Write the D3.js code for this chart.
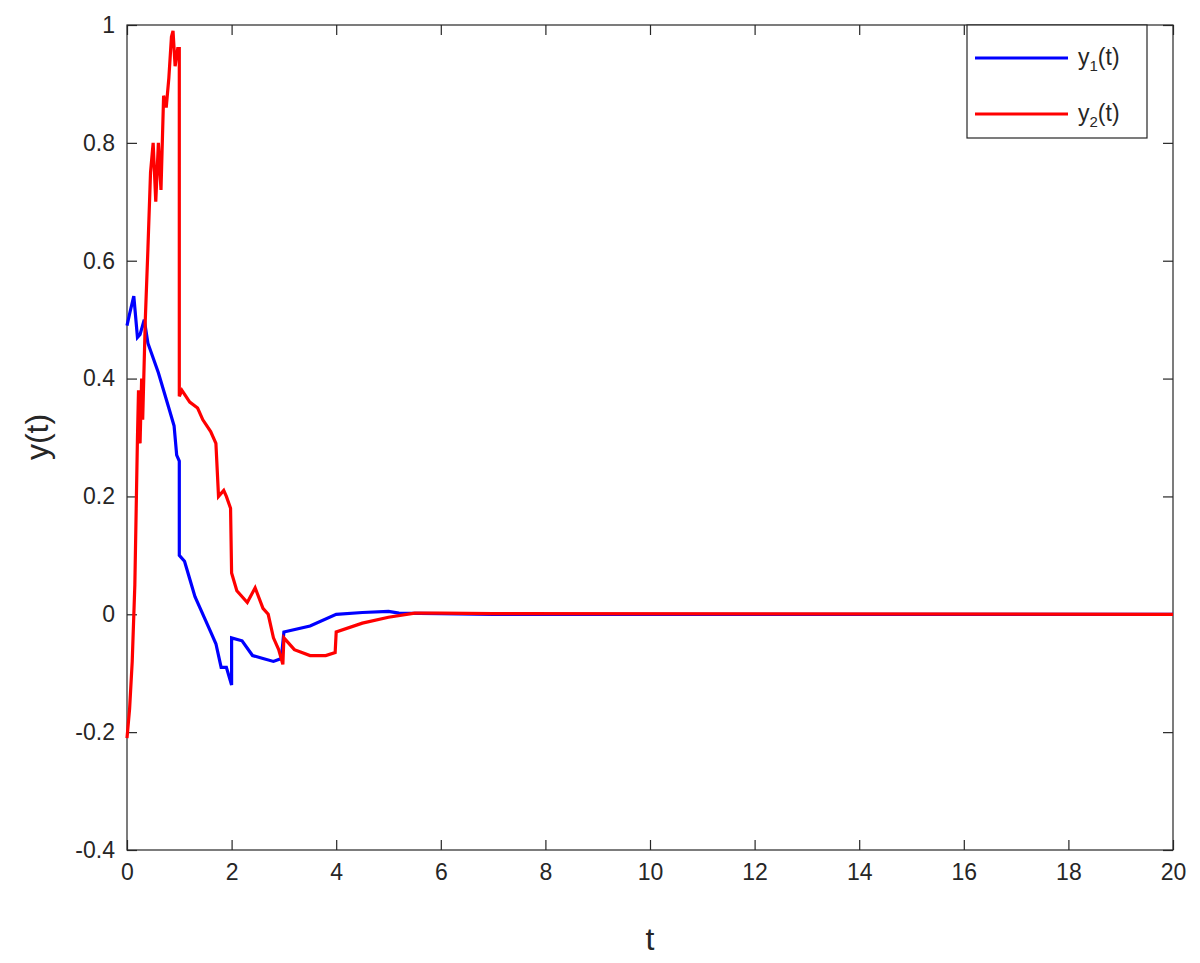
<!DOCTYPE html><html><head><meta charset="utf-8">
<script src="https://cdn.jsdelivr.net/npm/d3@7"></script>
<style>body{margin:0;background:#fff}text{font-family:"Liberation Sans",Arial,sans-serif;fill:#262626}</style></head><body>
<svg id="c" width="1200" height="963"></svg>
<script>
const xTicks=[0,2,4,6,8,10,12,14,16,18,20];
const yTicks=[-0.4,-0.2,0,0.2,0.4,0.6,0.8,1];
const y1T=[0,0.05,0.13,0.2,0.25,0.33,0.4,0.6,0.8,0.9,0.95,1.0,1.0,1.1,1.2,1.3,1.4,1.5,1.6,1.7,1.8,1.9,2.0,2.0,2.2,2.4,2.6,2.8,2.95,3.0,3.5,4.0,4.5,5.0,5.2,6,7,20];
const y1V=[0.49,0.51,0.54,0.47,0.475,0.5,0.46,0.41,0.35,0.32,0.27,0.26,0.1,0.09,0.06,0.03,0.01,-0.01,-0.03,-0.05,-0.09,-0.09,-0.12,-0.04,-0.045,-0.07,-0.075,-0.08,-0.075,-0.03,-0.02,0,0.003,0.005,0.002,0.001,0,0];
const y2T=[0,0.05,0.1,0.15,0.2,0.22,0.25,0.28,0.3,0.35,0.4,0.45,0.5,0.55,0.6,0.65,0.7,0.75,0.8,0.85,0.88,0.92,0.97,1.0,1.0,1.05,1.2,1.35,1.45,1.6,1.7,1.75,1.85,1.9,1.98,2.0,2.1,2.3,2.45,2.6,2.7,2.8,2.9,2.98,3.0,3.2,3.5,3.8,3.98,4.0,4.5,5.0,5.5,6,7,20];
const y2V=[-0.21,-0.16,-0.08,0.05,0.3,0.38,0.29,0.4,0.33,0.5,0.62,0.75,0.8,0.7,0.8,0.72,0.88,0.86,0.91,0.98,0.99,0.93,0.96,0.96,0.37,0.38,0.36,0.35,0.33,0.31,0.29,0.2,0.21,0.2,0.18,0.07,0.04,0.02,0.045,0.01,0,-0.04,-0.06,-0.085,-0.04,-0.06,-0.07,-0.07,-0.065,-0.03,-0.015,-0.005,0.002,0.002,0.001,0];
const svg=d3.select("#c");
const L=127,R=1173,T=25,B=850;
const x=d3.scaleLinear().domain([0,20]).range([L,R]);
const y=d3.scaleLinear().domain([-0.4,1]).range([B,T]);
svg.append("rect").attr("x",L).attr("y",T).attr("width",R-L).attr("height",B-T).attr("fill","none").attr("stroke","#262626").attr("stroke-width",1.2);
const fmt=d=>d===0?"0":String(+d.toFixed(1));
svg.append("g").attr("transform",`translate(0,${B})`).call(d3.axisBottom(x).tickValues(xTicks).tickSize(-10).tickPadding(14).tickFormat(d=>String(d)));
svg.append("g").attr("transform",`translate(${L},0)`).call(d3.axisLeft(y).tickValues(yTicks).tickSize(-10).tickPadding(12).tickFormat(fmt));
svg.append("g").attr("transform",`translate(0,${T})`).call(d3.axisTop(x).tickValues(xTicks).tickSize(-10).tickFormat(""));
svg.append("g").attr("transform",`translate(${R},0)`).call(d3.axisRight(y).tickValues(yTicks).tickSize(-10).tickFormat(""));
svg.selectAll(".domain").remove();
svg.selectAll(".tick line").attr("stroke","#262626").attr("stroke-width",1.2);
svg.selectAll(".tick text").attr("font-size",23).attr("fill","#262626");
const line=d3.line().x(d=>x(d[0])).y(d=>y(d[1]));
svg.append("path").attr("d",line(y1T.map((t,i)=>[t,y1V[i]]))).attr("fill","none").attr("stroke","#0000ff").attr("stroke-width",3.2);
svg.append("path").attr("d",line(y2T.map((t,i)=>[t,y2V[i]]))).attr("fill","none").attr("stroke","#ff0000").attr("stroke-width",3.2);
svg.append("text").attr("x",650).attr("y",950).attr("text-anchor","middle").attr("font-size",32).text("t");
svg.append("text").attr("transform","translate(48,437) rotate(-90)").attr("text-anchor","middle").attr("font-size",32).text("y(t)");
const lg=svg.append("g");
lg.append("rect").attr("x",967).attr("y",25).attr("width",180).attr("height",113).attr("fill","#fff").attr("stroke","#262626").attr("stroke-width",1.2);
[["#0000ff","1",58],["#ff0000","2",114]].forEach(([c,s,yy])=>{
 lg.append("line").attr("x1",975).attr("x2",1068).attr("y1",yy).attr("y2",yy).attr("stroke",c).attr("stroke-width",3.2);
 const t=lg.append("text").attr("x",1078).attr("y",yy+7).attr("font-size",23);
 t.append("tspan").text("y");t.append("tspan").attr("font-size",15).attr("dy",6).text(s);t.append("tspan").attr("dy",-6).text("(t)");
});
</script></body></html>
